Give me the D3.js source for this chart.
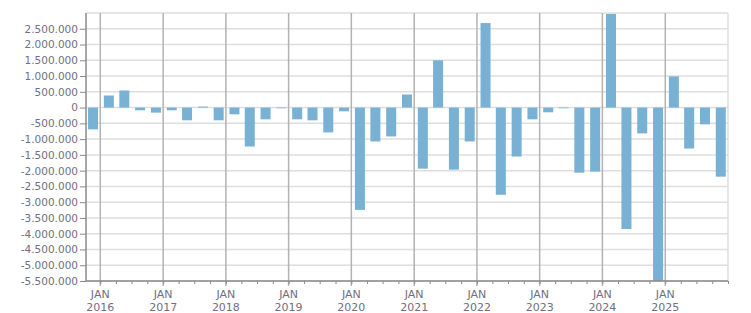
<!DOCTYPE html>
<html>
<head>
<meta charset="utf-8">
<script src="https://cdn.jsdelivr.net/npm/d3@7"></script>
<style>
  body { margin: 0; background: #fff; }
  text { font-family: "DejaVu Sans", Verdana, sans-serif; }
</style>
</head>
<body>
<script>
// quarterly values, Q4 2015 .. Q4 2025
var quarters = ["2015-Q4",
  "2016-Q1","2016-Q2","2016-Q3","2016-Q4",
  "2017-Q1","2017-Q2","2017-Q3","2017-Q4",
  "2018-Q1","2018-Q2","2018-Q3","2018-Q4",
  "2019-Q1","2019-Q2","2019-Q3","2019-Q4",
  "2020-Q1","2020-Q2","2020-Q3","2020-Q4",
  "2021-Q1","2021-Q2","2021-Q3","2021-Q4",
  "2022-Q1","2022-Q2","2022-Q3","2022-Q4",
  "2023-Q1","2023-Q2","2023-Q3","2023-Q4",
  "2024-Q1","2024-Q2","2024-Q3","2024-Q4",
  "2025-Q1","2025-Q2","2025-Q3","2025-Q4"];

var values = [-690000,
  383000, 543000, -85000, -160000,
  -85000, -404000, 32000, -404000,
  -213000, -1234000, -372000, -21000,
  -372000, -404000, -787000, -117000,
  -3245000, -1074000, -915000, 415000,
  -1936000, 1500000, -1968000, -1074000,
  2681000, -2766000, -1553000, -372000,
  -149000, -21000, -2064000, -2032000,
  2970000, -3851000, -819000, -5500000,
  989000, -1298000, -532000, -2191000];

var yTicks = [2500000, 2000000, 1500000, 1000000, 500000, 0, -500000, -1000000,
  -1500000, -2000000, -2500000, -3000000, -3500000, -4000000, -4500000, -5000000, -5500000];

var width = 751, height = 313;
var pLeft = 86, pRight = 728, pTop = 13, pBottom = 281;

var svg = d3.select("body").append("svg")
    .attr("width", width)
    .attr("height", height);

var x = d3.scaleTime()
    .domain([new Date(2015, 9, 10), new Date(2026, 0, 1)])
    .range([pLeft, pRight]);

var y = d3.scaleLinear()
    .domain([-5500000, 3000000])
    .range([pBottom, pTop]);

var loc = d3.formatLocale({decimal: ",", thousands: ".", grouping: [3], currency: ["", ""], minus: "-"});
var fmt = loc.format(",d");

function qDate(s) {
  var yr = +s.slice(0, 4), q = +s.slice(6);
  return new Date(yr, (q - 1) * 3 + 1, 20);  // middle of the quarter
}

// horizontal grid
svg.append("g").selectAll("line")
    .data(yTicks.concat([3000000]))
    .enter().append("line")
    .attr("x1", pLeft).attr("x2", pRight)
    .attr("y1", function(d) { return y(d); })
    .attr("y2", function(d) { return y(d); })
    .style("stroke", "#dedede")
    .style("stroke-width", 1.5);

// right border
svg.append("line")
    .attr("x1", pRight).attr("x2", pRight)
    .attr("y1", pTop).attr("y2", pBottom)
    .style("stroke", "#dedede")
    .style("stroke-width", 1.5);

// yearly vertical grid
var years = d3.timeYear.range(new Date(2016, 0, 1), new Date(2026, 0, 1));
svg.append("g").selectAll("line")
    .data(years)
    .enter().append("line")
    .attr("x1", function(d) { return x(d); })
    .attr("x2", function(d) { return x(d); })
    .attr("y1", pTop).attr("y2", pBottom + 5)
    .style("stroke", "#b3b3b3")
    .style("stroke-width", 1.5);

// bars
svg.append("g").selectAll("rect")
    .data(values)
    .enter().append("rect")
    .attr("x", function(d, i) { return x(qDate(quarters[i])) - 5; })
    .attr("width", 10)
    .attr("y", function(d) { return y(Math.max(0, d)); })
    .attr("height", function(d) { return Math.abs(y(d) - y(0)); })
    .style("fill", "#78b1d3");

// y axis
var yAxis = svg.append("g")
    .attr("transform", "translate(" + pLeft + ",0)")
    .call(d3.axisLeft(y).tickValues(yTicks).tickFormat(fmt).tickSize(6).tickPadding(2));
yAxis.select(".domain").attr("d", "M0," + pTop + "V" + pBottom).style("stroke", "#8a8a8a").style("stroke-width", 1.5);
yAxis.selectAll(".tick line").style("stroke", "#8a8a8a").style("stroke-width", 1);
yAxis.selectAll("text")
    .style("font-size", "10.5px")
    .style("fill", "#6f6f82");

// x axis: quarterly minor ticks, yearly labels
var xAxis = svg.append("g")
    .attr("transform", "translate(0," + pBottom + ")")
    .call(d3.axisBottom(x).ticks(d3.timeMonth.every(3)).tickSize(3).tickFormat(""));
xAxis.select(".domain").attr("d", "M" + pLeft + ",0H" + pRight).style("stroke", "#8a8a8a").style("stroke-width", 1.5);
xAxis.selectAll(".tick line").style("stroke", "#8a8a8a");

var lab = svg.append("g").selectAll("text")
    .data(years)
    .enter().append("text")
    .attr("x", function(d) { return x(d); })
    .attr("text-anchor", "middle")
    .style("font-size", "11px")
    .style("fill", "#6f6f82");
lab.append("tspan").attr("x", function(d) { return x(d); }).attr("y", 298).text("JAN");
lab.append("tspan").attr("x", function(d) { return x(d); }).attr("y", 311).text(function(d) { return d.getFullYear(); });
</script>
</body>
</html>
